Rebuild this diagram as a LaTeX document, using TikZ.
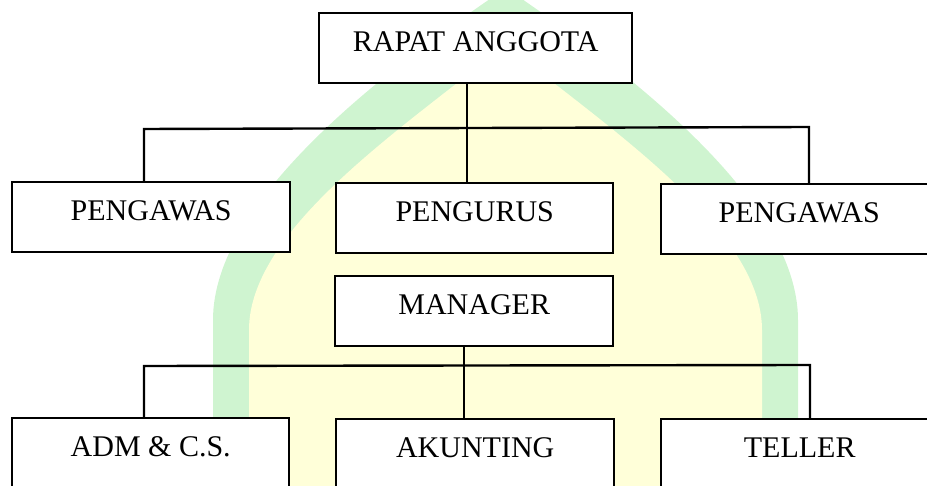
\documentclass[tikz,border=0pt]{standalone}
\usepackage{fontspec}
\setmainfont{Liberation Serif}
\usepackage{xcolor}
\definecolor{tandaHijau}{HTML}{CFF4D0}
\definecolor{tandaKuning}{HTML}{FFFFD9}
\usetikzlibrary{positioning}
\tikzset{
  %% ── Kotak ────────────────────────────────────────────────────────────
  %% Every office is the same white box; the name sits in its upper half.
  kotak/.style = {draw=black, line width=2.4pt, fill=white, anchor=north west,
                  inner xsep=0pt, inner ysep=0pt, align=center,
                  text height=38.5pt, text depth=31.5pt,
                  font=\fontsize{30}{35}\selectfont},
  %%
  %% ── Garis ────────────────────────────────────────────────────────────
  %% Plain lines, no heads: the chart reads from top to bottom.
  garis/.style = {draw=black, line width=2.4pt},
}

\begin{document}
\begin{tikzpicture}[x=1pt, y=-1pt]
\clip (0,0) rectangle (927,486);

%% watermark behind the chart
\fill[tandaHijau] (213,500) -- (213,320) .. controls (213,200) and (385,70) .. (506,-12)
  .. controls (626,70) and (798,200) .. (798,320) -- (798,500) -- cycle;
\fill[tandaKuning] (249,500) -- (249,330) .. controls (249,230) and (400,130) .. (505.5,45)
  .. controls (611,130) and (762,230) .. (762,330) -- (762,500) -- cycle;

%% offices
\node[kotak, minimum width=313pt] (rapat)         at (318,12)  {RAPAT ANGGOTA};
\node[kotak, minimum width=278pt] (pengawasKiri)  at (11,181)  {PENGAWAS};
\node[kotak, minimum width=277pt] (pengurus)      at (335,182) {PENGURUS};
\node[kotak, minimum width=276pt] (pengawasKanan) at (660,183) {PENGAWAS};
\node[kotak, minimum width=278pt] (manager)       at (334,275) {MANAGER};
\node[kotak, minimum width=277pt] (adm)           at (11,417)  {ADM \& C.S.};
\node[kotak, minimum width=278pt] (akunting)      at (335,418) {AKUNTING};
\node[kotak, minimum width=277pt] (teller)        at (660,418) {TELLER};

%% upper tier
\coordinate (cabangAtas) at (467,128);
\coordinate (kiriAtas)   at (144,129);
\coordinate (kananAtas)  at (809,127);
\draw[garis] (rapat.south -| cabangAtas) -- (pengurus.north -| cabangAtas);
\draw[garis] (pengawasKiri.north -| kiriAtas) -- (kiriAtas) -- (kananAtas)
             -- (pengawasKanan.north -| kananAtas);

%% lower tier
\coordinate (cabangBawah) at (464,365.5);
\coordinate (kiriBawah)   at (144,366);
\coordinate (kananBawah)  at (810,365);
\draw[garis] (manager.south -| cabangBawah) -- (akunting.north -| cabangBawah);
\draw[garis] (adm.north -| kiriBawah) -- (kiriBawah) -- (kananBawah)
             -- (teller.north -| kananBawah);

\end{tikzpicture}
\end{document}
